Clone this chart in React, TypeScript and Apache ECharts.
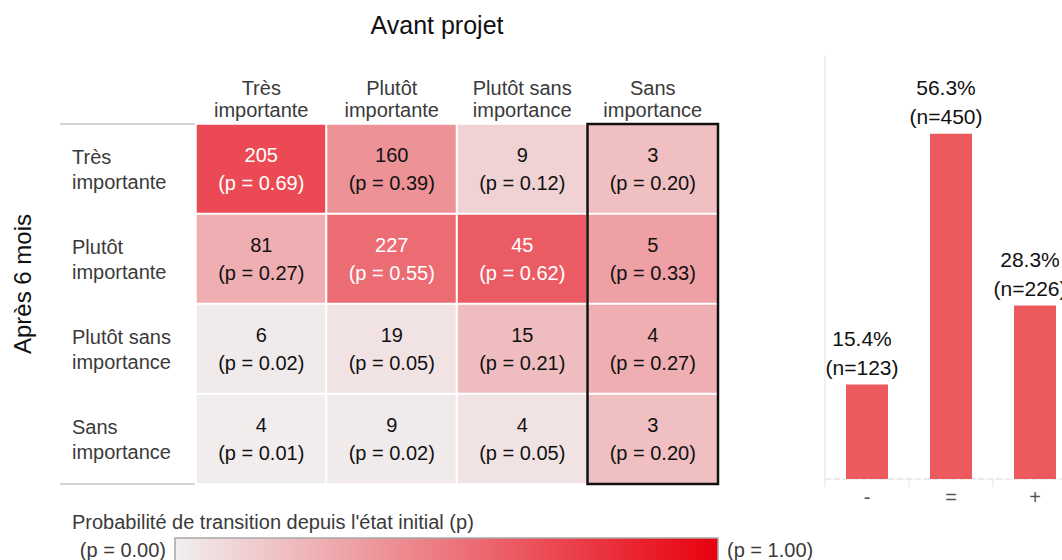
import React, { useEffect, useRef } from "react";
import * as echarts from "echarts";

const FONT = "'Liberation Sans', Arial, Helvetica, sans-serif";

const colCategories = ["Très\nimportante", "Plutôt\nimportante", "Plutôt sans\nimportance", "Sans\nimportance"];
const rowCategories = ["Très\nimportante", "Plutôt\nimportante", "Plutôt sans\nimportance", "Sans\nimportance"];

// rows = "Après 6 mois", columns = "Avant projet"
const counts = [
  [205, 160, 9, 3],
  [81, 227, 45, 5],
  [6, 19, 15, 4],
  [4, 9, 4, 3],
];
const probs = [
  [0.69, 0.39, 0.12, 0.2],
  [0.27, 0.55, 0.62, 0.33],
  [0.02, 0.05, 0.21, 0.27],
  [0.01, 0.02, 0.05, 0.2],
];

const barCategories = ["-", "=", "+"];
const barPercents = [15.4, 56.3, 28.3];
const barCounts = [123, 450, 226];

const COLOR_LOW = "#F1EFEF";
const COLOR_HIGH = "#E8000E";

// layout
const HM_LEFT = 196;
const HM_TOP = 124;
const HM_W = 522;
const HM_H = 360;
const CHART_W = 1090;

export default function App() {
  const ref = useRef<HTMLDivElement>(null);

  useEffect(() => {
    if (!ref.current) return;
    const chart = echarts.init(ref.current, undefined, { renderer: "svg" });

    const heatData: any[] = [];
    for (let r = 0; r < counts.length; r++) {
      for (let c = 0; c < counts[r].length; c++) {
        const p = probs[r][c];
        heatData.push({
          value: [c, r, counts[r][c], p],
          label: { color: p > 0.5 ? "#ffffff" : "#111111" },
        });
      }
    }

    const cellW = HM_W / colCategories.length;

    const option: any = {
      animation: false,
      backgroundColor: "#ffffff",
      textStyle: { fontFamily: FONT },
      grid: [
        { left: HM_LEFT, top: HM_TOP, width: HM_W, height: HM_H },
        { left: 825, top: 56, width: 252, height: 423 },
      ],
      xAxis: [
        {
          type: "category",
          gridIndex: 0,
          position: "top",
          data: colCategories,
          axisLine: { show: false },
          axisTick: { show: false },
          splitLine: { show: false },
          axisLabel: {
            fontSize: 20,
            lineHeight: 22,
            color: "#3a3a3a",
            margin: 3,
            fontFamily: FONT,
          },
        },
        {
          type: "category",
          gridIndex: 1,
          data: barCategories,
          axisLine: { show: true, lineStyle: { color: "#e3e3e3", type: "dashed", width: 1.5 } },
          axisTick: { show: true, length: 8, lineStyle: { color: "#ebebeb", width: 1.5 } },
          axisLabel: { fontSize: 20, color: "#555555", margin: 8, fontFamily: FONT },
        },
      ],
      yAxis: [
        {
          type: "category",
          gridIndex: 0,
          inverse: true,
          data: rowCategories,
          axisLine: { show: false },
          axisTick: { show: false },
          splitLine: { show: false },
          axisLabel: {
            align: "left",
            margin: HM_LEFT - 72,
            fontSize: 20,
            lineHeight: 25,
            color: "#3a3a3a",
            fontFamily: FONT,
          },
        },
        {
          type: "value",
          gridIndex: 1,
          min: 0,
          max: 69,
          axisLine: { show: true, lineStyle: { color: "#f0f0f0", width: 2 } },
          axisTick: { show: false },
          axisLabel: { show: false },
          splitLine: { show: false },
        },
      ],
      visualMap: {
        show: false,
        type: "continuous",
        min: 0,
        max: 1,
        dimension: 3,
        seriesIndex: 0,
        inRange: { color: [COLOR_LOW, COLOR_HIGH] },
      },
      series: [
        {
          type: "heatmap",
          xAxisIndex: 0,
          yAxisIndex: 0,
          data: heatData,
          itemStyle: { borderColor: "#ffffff", borderWidth: 2 },
          emphasis: { disabled: true },
          label: {
            show: true,
            fontSize: 20,
            lineHeight: 28,
            fontFamily: FONT,
            formatter: (params: any) =>
              `${params.value[2]}\n(p = ${Number(params.value[3]).toFixed(2)})`,
          },
        },
        {
          type: "bar",
          xAxisIndex: 1,
          yAxisIndex: 1,
          data: barPercents,
          barWidth: "50%",
          itemStyle: { color: "#EC5A5E" },
          emphasis: { disabled: true },
          label: {
            show: true,
            position: "top",
            distance: 3,
            offset: [-5, 0],
            fontSize: 21,
            lineHeight: 29,
            color: "#111111",
            fontFamily: FONT,
            formatter: (params: any) =>
              `${barPercents[params.dataIndex].toFixed(1)}%\n(n=${barCounts[params.dataIndex]})`,
          },
        },
      ],
      graphic: [
        {
          type: "text",
          x: 437,
          y: 25,
          style: {
            text: "Avant projet",
            fontSize: 25,
            fontFamily: FONT,
            fill: "#111111",
            align: "center",
            verticalAlign: "middle",
          },
        },
        {
          type: "text",
          x: 22,
          y: 284,
          rotation: Math.PI / 2,
          style: {
            text: "Après 6 mois",
            fontSize: 24,
            fontFamily: FONT,
            fill: "#111111",
            align: "center",
            verticalAlign: "middle",
          },
        },
        {
          type: "line",
          shape: { x1: 60, y1: HM_TOP, x2: HM_LEFT + HM_W, y2: HM_TOP },
          style: { stroke: "#d3d3d3", lineWidth: 2 },
        },
        {
          type: "line",
          shape: { x1: 60, y1: HM_TOP + HM_H, x2: HM_LEFT + HM_W, y2: HM_TOP + HM_H },
          style: { stroke: "#d3d3d3", lineWidth: 2 },
        },
        {
          type: "rect",
          z: 100,
          shape: { x: HM_LEFT + 3 * cellW, y: HM_TOP, width: cellW, height: HM_H },
          style: { fill: "none", stroke: "#111111", lineWidth: 2.5 },
        },
        {
          type: "text",
          x: 72,
          y: 522,
          style: {
            text: "Probabilité de transition depuis l'état initial (p)",
            fontSize: 20,
            fontFamily: FONT,
            fill: "#3a3a3a",
            align: "left",
            verticalAlign: "middle",
          },
        },
        {
          type: "rect",
          shape: { x: 175, y: 538, width: 543, height: 26 },
          style: {
            fill: new echarts.graphic.LinearGradient(0, 0, 1, 0, [
              { offset: 0, color: COLOR_LOW },
              { offset: 1, color: COLOR_HIGH },
            ]),
            stroke: "#a8a8a8",
            lineWidth: 1.5,
          },
        },
        {
          type: "text",
          x: 166,
          y: 550,
          style: {
            text: "(p = 0.00)",
            fontSize: 20,
            fontFamily: FONT,
            fill: "#3a3a3a",
            align: "right",
            verticalAlign: "middle",
          },
        },
        {
          type: "text",
          x: 727,
          y: 550,
          style: {
            text: "(p = 1.00)",
            fontSize: 20,
            fontFamily: FONT,
            fill: "#3a3a3a",
            align: "left",
            verticalAlign: "middle",
          },
        },
      ],
    };

    chart.setOption(option);
    return () => {
      chart.dispose();
    };
  }, []);

  return (
    <div
      style={{
        position: "fixed",
        left: 0,
        top: 0,
        width: 1062,
        height: 560,
        overflow: "hidden",
        background: "#ffffff",
      }}
    >
      <div ref={ref} style={{ width: CHART_W, height: 560 }} />
    </div>
  );
}
